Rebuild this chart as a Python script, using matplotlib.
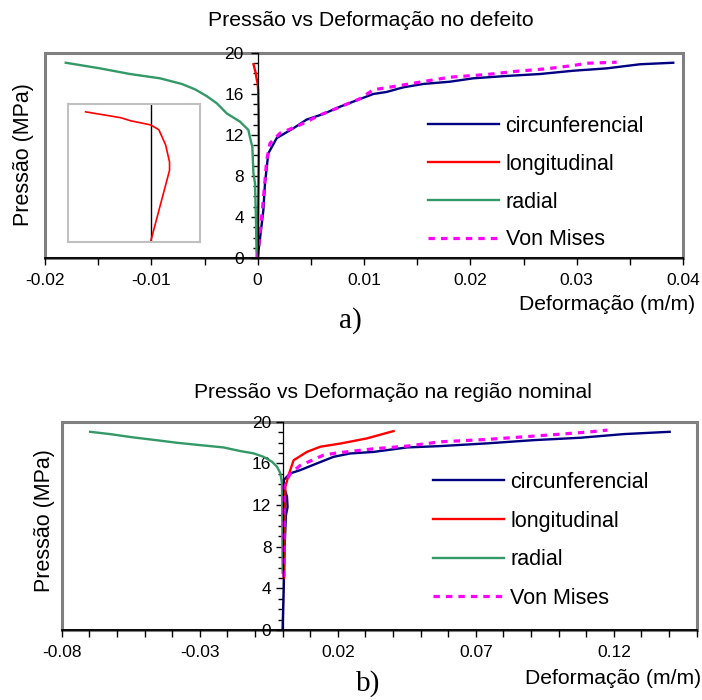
import numpy as np
import matplotlib
matplotlib.use('Agg')
import matplotlib.pyplot as plt
from matplotlib.ticker import FixedLocator, MultipleLocator

plt.rcParams['font.family'] = ['Liberation Sans', 'DejaVu Sans']

# ---- a) Pressao vs Deformacao no defeito
circ_a_x = [0, 0.00053, 0.00069, 0.0010, 0.00179, 0.00335, 0.0046, 0.00617, 0.00774, 0.01087,
            0.01213, 0.01369, 0.01557, 0.01808, 0.02027, 0.02341, 0.02655, 0.02968, 0.03282,
            0.03595, 0.03908]
circ_a_y = [0, 4.6, 7.3, 10.2, 11.7, 12.65, 13.5, 14.05, 14.76, 16.0,
            16.2, 16.65, 16.98, 17.2, 17.53, 17.76, 17.95, 18.27, 18.5,
            18.9, 19.05]
long_a_x = [0, 0.000115, 0.000115, 0.000091, 0.00005, 0, -0.000121, -0.000182, -0.000395]
long_a_y = [0, 10.4, 11.6, 14.1, 16.3, 17.0, 17.6, 18.05, 18.9]
rad_a_x = [-0.0001, -0.00016, -0.00025, -0.0004, -0.0005, -0.00066, -0.00088, -0.00166, -0.0029,
           -0.00385, -0.0048, -0.0059, -0.00714, -0.00918, -0.0120, -0.01482, -0.01805]
rad_a_y = [0, 3.7, 7.3, 8.26, 10.86, 11.5, 12.5, 13.3, 14.1,
           15.1, 15.8, 16.46, 16.98, 17.53, 17.95, 18.5, 19.05]
vm_a_x = [0, 0.00022, 0.00053, 0.00085, 0.00116, 0.0021, 0.00398, 0.00586, 0.00743, 0.00963,
          0.01087, 0.01338, 0.0162, 0.01808, 0.02153, 0.02435, 0.02717, 0.02968, 0.03094, 0.03376]
vm_a_y = [0, 2.44, 5.66, 9.56, 11.19, 12.17, 12.98, 13.95, 14.6, 15.55,
          16.41, 16.83, 17.32, 17.64, 17.9, 18.22, 18.46, 18.78, 19.0, 19.1]

# ---- b) Pressao vs Deformacao na regiao nominal
circ_b_x = [0, 0.0004, 0.0007, 0.0012, 0.0018, 0.0016, 0.0008, 0.0004, 0.0028, 0.0064, 0.0125,
            0.0185, 0.0245, 0.033, 0.0451, 0.0572, 0.0741, 0.091, 0.1079, 0.1236, 0.1402]
circ_b_y = [0, 3.8, 7.7, 11.0, 11.8, 12.8, 13.5, 14.4, 15.04, 15.35, 16.0,
            16.63, 16.95, 17.1, 17.53, 17.66, 17.92, 18.23, 18.46, 18.81, 19.03]
long_b_x = [0.0005, 0.0008, 0.001, 0.0022, 0.004, 0.0088, 0.0137, 0.0209, 0.0306, 0.0402]
long_b_y = [5.0, 10.0, 13.75, 14.9, 16.3, 17.1, 17.6, 17.9, 18.4, 19.1]
rad_b_x = [0.0, -0.0001, -0.0002, -0.0008, -0.002, -0.0038, -0.0069, -0.0105, -0.0153,
           -0.0214, -0.0298, -0.0383, -0.048, -0.054, -0.0625, -0.0697]
rad_b_y = [5.5, 10.0, 14.08, 15.04, 15.67, 16.15, 16.63, 16.96, 17.18,
           17.53, 17.75, 17.98, 18.3, 18.49, 18.81, 19.03]
vm_b_x = [0.0005, 0.0005, 0.0028, 0.0064, 0.0107, 0.0149, 0.0197, 0.033, 0.0451, 0.0572,
          0.0741, 0.0874, 0.0995, 0.1116, 0.1176]
vm_b_y = [5.1, 13.8, 15.04, 15.8, 16.3, 16.8, 17.0, 17.4, 17.66, 18.07,
          18.3, 18.55, 18.78, 19.03, 19.19]

series_names = ['circunferencial', 'longitudinal', 'radial', 'Von Mises']
colors = ['#000080', '#FF0000', '#339966', '#FF00FF']

xticks_a = [-0.02, -0.01, 0, 0.01, 0.02, 0.03, 0.04]
xticklabels_a = ['-0.02', '-0.01', '0', '0.01', '0.02', '0.03', '0.04']
xticks_b = [-0.08, -0.03, 0.02, 0.07, 0.12]
xticklabels_b = ['-0.08', '-0.03', '0.02', '0.07', '0.12']
yticks = [0, 4, 8, 12, 16, 20]

W, H = 702, 700
fig = plt.figure(figsize=(7.02, 7.00), dpi=100)


def px_rect(x0, y0, x1, y1):
    return [x0 / W, 1 - y1 / H, (x1 - x0) / W, (y1 - y0) / H]


def style_axes(ax, xlim, xticks, xlabels, minor_step, ypad):
    ax.set_xlim(xlim)
    ax.set_ylim(0, 20)
    for s in ['top', 'right']:
        ax.spines[s].set_visible(False)
    ax.spines['left'].set_position(('data', 0))
    ax.spines['left'].set_color('black')
    ax.spines['left'].set_linewidth(0.9)
    ax.spines['bottom'].set_color('black')
    ax.spines['bottom'].set_linewidth(1.3)
    ax.patch.set_edgecolor('#808080')
    ax.patch.set_linewidth(2.2)
    ax.xaxis.set_major_locator(FixedLocator(xticks))
    ax.set_xticklabels(xlabels)
    minors = np.arange(xlim[0], xlim[1] + minor_step / 2, minor_step)
    ax.xaxis.set_minor_locator(FixedLocator(minors))
    ax.yaxis.set_major_locator(FixedLocator(yticks))
    ax.yaxis.set_minor_locator(MultipleLocator(1))
    ax.tick_params(axis='x', which='both', direction='out', length=5, width=1, pad=6,
                   labelsize=12.5)
    ax.tick_params(axis='y', which='major', direction='out', length=5, width=1, pad=ypad,
                   labelsize=12.5)
    ax.tick_params(axis='y', which='minor', direction='out', length=3.5, width=1)


def draw_series(ax, data):
    for (x, y), name, c in zip(data, series_names, colors):
        if name == 'Von Mises':
            ax.plot(x, y, color=c, lw=2.3, ls=(0, (2, 1.9)), dash_capstyle='butt', label=name)
        else:
            ax.plot(x, y, color=c, lw=1.7, label=name)


# top chart
ax1 = fig.add_axes(px_rect(45, 53, 683, 258))
style_axes(ax1, (-0.02, 0.04), xticks_a, xticklabels_a, 0.005, 5)
draw_series(ax1, [(circ_a_x, circ_a_y), (long_a_x, long_a_y),
                  (rad_a_x, rad_a_y), (vm_a_x, vm_a_y)])
ax1.legend(loc='upper left', bbox_to_anchor=(428 / W, 1 - 116 / H),
           bbox_transform=fig.transFigure, frameon=False, fontsize=15.5,
           handlelength=3.3, handletextpad=0.3, labelspacing=0.78,
           borderpad=0, borderaxespad=0)

# inset zoom of longitudinal strain
axi = fig.add_axes(px_rect(68.3, 104.3, 200, 241.7))
axi.set_xlim(-0.0005, 0.0003)
axi.set_ylim(0, 20)
axi.set_xticks([])
axi.set_yticks([])
for s in axi.spines.values():
    s.set_color('#C0C0C0')
    s.set_linewidth(1.5)
axi.axvline(0, color='black', lw=1)
axi.plot(long_a_x, long_a_y, color='#FF0000', lw=1.2)

fig.text(371 / W, 1 - 20 / H, 'Pressão vs Deformação no defeito', ha='center', va='center',
         fontsize=15.3)
fig.text(23 / W, 1 - 155 / H, 'Pressão (MPa)', rotation=90, ha='center', va='center',
         fontsize=15.5)
fig.text(695 / W, 1 - 305 / H, 'Deformação (m/m)', ha='right', va='center', fontsize=15.2)
fig.text(350 / W, 1 - 321 / H, 'a)', ha='center', va='center', fontsize=21,
         family='Liberation Serif')

# bottom chart
ax2 = fig.add_axes(px_rect(61.7, 421.7, 696.7, 630))
style_axes(ax2, (-0.08, 0.15), xticks_b, xticklabels_b, 0.01, 3)
draw_series(ax2, [(circ_b_x, circ_b_y), (long_b_x, long_b_y),
                  (rad_b_x, rad_b_y), (vm_b_x, vm_b_y)])
ax2.legend(loc='upper left', bbox_to_anchor=(433 / W, 1 - 472 / H),
           bbox_transform=fig.transFigure, frameon=False, fontsize=15.5,
           handlelength=3.3, handletextpad=0.3, labelspacing=0.82,
           borderpad=0, borderaxespad=0)

fig.text(393 / W, 1 - 393 / H, 'Pressão vs Deformação na região nominal', ha='center',
         va='center', fontsize=15.1)
fig.text(45 / W, 1 - 521 / H, 'Pressão (MPa)', rotation=90, ha='center', va='center',
         fontsize=15.5)
fig.text(701 / W, 1 - 678 / H, 'Deformação (m/m)', ha='right', va='center', fontsize=15.2)
fig.text(368 / W, 1 - 684 / H, 'b)', ha='center', va='center', fontsize=21,
         family='Liberation Serif')

fig.savefig('out.png', dpi=100)
